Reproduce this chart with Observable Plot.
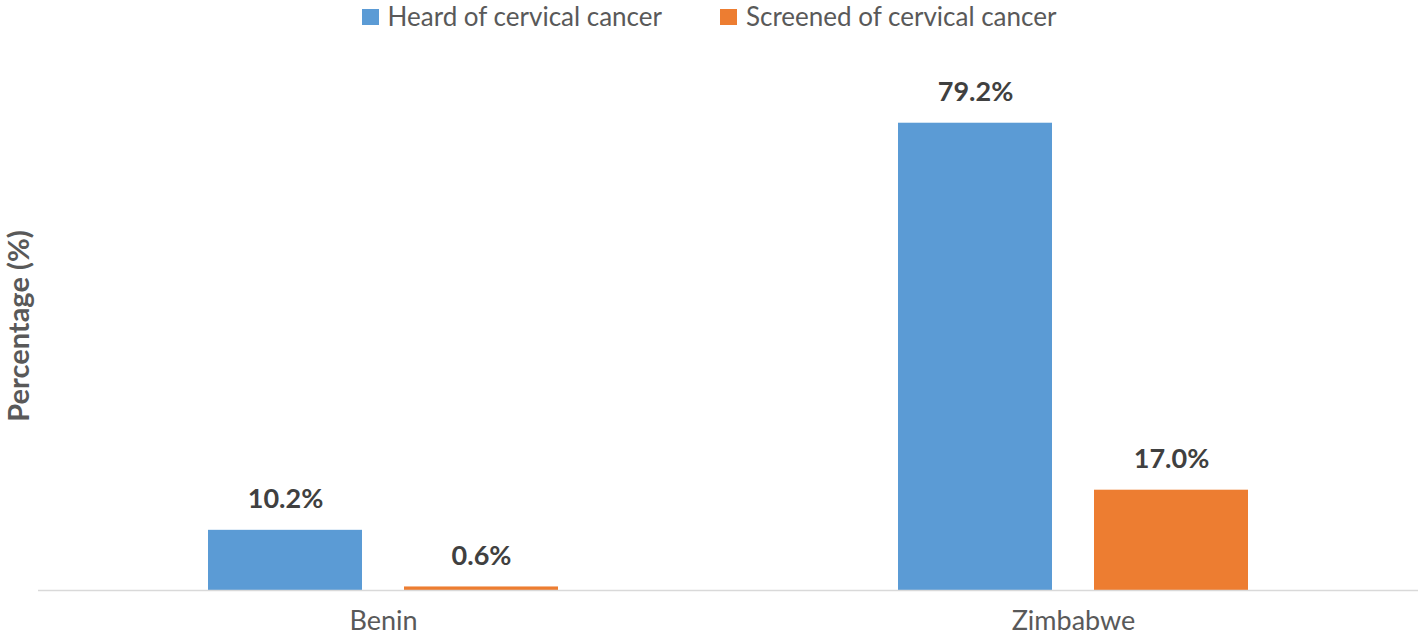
<!DOCTYPE html>
<html><head><meta charset="utf-8">
<script src="https://cdn.jsdelivr.net/npm/d3@7"></script>
<script src="https://cdn.jsdelivr.net/npm/@observablehq/plot@0.6"></script>
<style>
body{margin:0;background:#fff;font-family:Lato,"Noto Sans",sans-serif;}
#wrap{position:relative;width:1418px;height:638px;overflow:hidden;background:#fff}
#legend{position:absolute;top:0;left:0;width:1418px;height:32px;display:flex;justify-content:center;align-items:flex-start;color:#595959;font-size:26px;line-height:normal;}
.item{display:flex;align-items:center;margin:0 29px;}
.sw{width:17px;height:16px;margin-right:9px;margin-top:2px;}
#ylab{position:absolute;left:17px;top:326px;transform:translate(-50%,-50%) rotate(-90deg);white-space:nowrap;font-weight:bold;font-size:29px;line-height:1;color:#595959;}
#chart{position:absolute;top:30px;left:0;}
</style></head>
<body><div id="wrap"><div id="chart"></div><div id="legend"></div><div id="ylab">Percentage (%)</div></div>
<script>
const countries = ["Benin", "Zimbabwe"];
const seriesNames = ["Heard of cervical cancer", "Screened of cervical cancer"];
const heard = [10.2, 79.2];
const screened = [0.6, 17.0];
const colors = ["#5B9BD5", "#ED7D31"];

const rows = [];
countries.forEach((c, i) => {
  rows.push({country: c, series: seriesNames[0], value: heard[i]});
  rows.push({country: c, series: seriesNames[1], value: screened[i]});
});

const legend = document.getElementById("legend");
seriesNames.forEach((s, i) => {
  const it = document.createElement("div"); it.className = "item";
  const sw = document.createElement("div"); sw.className = "sw"; sw.style.background = colors[i];
  const tx = document.createElement("span"); tx.textContent = s;
  it.appendChild(sw); it.appendChild(tx); legend.appendChild(it);
});

const chart = Plot.plot({
  width: 1418, height: 608,
  marginTop: 29, marginBottom: 48, marginLeft: 37, marginRight: 0,
  style: {fontFamily: "Lato, 'Noto Sans', sans-serif", background: "#fff"},
  fx: {domain: countries, padding: 0, label: null},
  x: {domain: seriesNames, paddingInner: 0.213, paddingOuter: 0.858, axis: null},
  y: {domain: [0, 90], axis: null},
  color: {domain: seriesNames, range: colors},
  marks: [
    Plot.barY(rows, {fx: "country", x: "series", y: "value", fill: "series"}),
    Plot.ruleY([0], {stroke: "#d9d9d9", strokeWidth: 1.5}),
    Plot.text(rows, {fx: "country", x: "series", y: "value", text: d => d.value.toFixed(1) + "%", dy: -31, fontWeight: "bold", fontSize: 27, fill: "#404040"}),
    Plot.axisFx({anchor: "bottom", tickSize: 0, tickPadding: 20, fontSize: 27, color: "#595959", label: null})
  ]
});
document.getElementById("chart").appendChild(chart);
</script></body></html>
